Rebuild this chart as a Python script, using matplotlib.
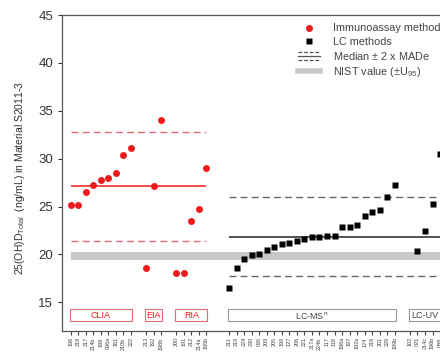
import numpy as np
import matplotlib
matplotlib.use('Agg')
import matplotlib.pyplot as plt
from matplotlib.lines import Line2D
from matplotlib.patches import Rectangle
from matplotlib.legend_handler import HandlerBase

plt.rcParams['font.family'] = ['Liberation Sans', 'DejaVu Sans']
plt.rcParams['mathtext.default'] = 'regular'

# Data (ng/mL)
clia_labs = ['196', '218', '217', '214b', '188', '096a', '161', '210b', '222']
clia_vals = [25.2, 25.2, 26.5, 27.2, 27.8, 28.0, 28.5, 30.4, 31.1]
eia_labs = ['213', '192', '198b']
eia_vals = [18.6, 27.1, 34.0]
ria_labs = ['200', '191', '212', '214a', '195b']
ria_vals = [18.0, 18.1, 23.5, 24.7, 29.0]
lcms_labs = ['211', '219', '224', '230', '026', '209', '205', '199', '127',
             '206', '221', '217a', '224b', '117', '118', '198a', '197', '192a',
             '124', '216', '201', '229', '199b']
lcms_vals = [16.5, 18.6, 19.5, 19.95, 20.05, 20.5, 20.75, 21.1, 21.17, 21.4,
             21.65, 21.8, 21.8, 21.9, 21.9, 22.9, 22.9, 23.1, 24.0, 24.4,
             24.6, 26.0, 27.2]
lcuv_labs = ['102', '021', '214c', '196b', '088']
lcuv_vals = [np.nan, 20.4, 22.4, 25.3, 30.5]

ia_median, ia_made = 27.1, 2.85
lc_median, lc_made = 21.85, 2.07
nist_lo, nist_hi = 19.4, 20.25

RED = '#ee1c1c'
RED_D = '#e36a78'
GRAY_TXT = '#333333'


class HandlerMedian(HandlerBase):
    def create_artists(self, legend, orig_handle, xdescent, ydescent,
                       width, height, fontsize, trans):
        arts = []
        for frac, ls in ((1.05, (0, (3, 1.5))), (0.5, '-'), (-0.05, (0, (3, 1.5)))):
            y = height * frac - ydescent
            arts.append(Line2D([-xdescent, width - xdescent], [y, y], ls=ls,
                               color='#555555', lw=0.9, transform=trans))
        return arts


# build slot positions: groups separated by empty slots
groups = [('CLIA', clia_labs, clia_vals, 0), ('EIA', eia_labs, eia_vals, 1),
          ('RIA', ria_labs, ria_vals, 1), ('LC-MS$^n$', lcms_labs, lcms_vals, 2),
          ('LC-UV', lcuv_labs, lcuv_vals, 1)]
pos = 0
placed = []
for name, labs, vals, gap in groups:
    pos += gap
    xs = np.arange(pos, pos + len(labs))
    placed.append((name, labs, np.array(vals, dtype=float), xs))
    pos += len(labs)

fig = plt.figure(figsize=(4.4, 3.56), dpi=100)
ax = fig.add_axes([62 / 440, 0.0705, 0.962, 0.887])

ia = placed[:3]
lc = placed[3:]
ia_x0, ia_x1 = ia[0][3][0], ia[-1][3][-1]
lc_x0, lc_x1 = lc[0][3][0], lc[-1][3][-1] + 4

# NIST band
ax.fill_between([ia_x0, lc_x1], nist_lo, nist_hi, color='#c8c8c8', lw=0, zorder=1)

# median +/- 2 MADe lines
ax.hlines(ia_median, ia_x0, ia_x1, color=RED, lw=1.1, zorder=2)
ax.hlines([ia_median + 2 * ia_made, ia_median - 2 * ia_made], ia_x0, ia_x1,
          color=RED_D, lw=1.0, linestyles=(0, (5, 3)), zorder=2)
ax.hlines(lc_median, lc_x0, lc_x1, color='#222222', lw=1.1, zorder=2)
ax.hlines([lc_median + 2 * lc_made, lc_median - 2 * lc_made], lc_x0, lc_x1,
          color='#666666', lw=1.0, linestyles=(0, (5, 3)), zorder=2)

# points
for name, labs, vals, xs in ia:
    ax.plot(xs, vals, 'o', color=RED, ms=5, mec='none', zorder=3)
for name, labs, vals, xs in lc:
    ax.plot(xs, vals, 's', color='black', ms=4.5, mec='none', zorder=3)

# group boxes
for i, (name, labs, vals, xs) in enumerate(placed):
    ec = RED_D if i < 3 else '#999999'
    tc = RED if i < 3 else '#444444'
    ax.add_patch(Rectangle((xs[0] - 0.15, 13.0), xs[-1] - xs[0] + 0.3, 1.3,
                           fill=False, ec=ec, lw=0.8, zorder=2))
    ax.text((xs[0] + xs[-1]) / 2, 13.65, name, ha='center', va='center',
            fontsize=6.5, color=tc)

all_x = np.concatenate([p[3] for p in placed])
all_labs = sum([p[1] for p in placed], [])
ax.set_xticks(all_x)
ax.set_xticklabels(all_labs, rotation=90, fontsize=4, color='#444444')
ax.tick_params(axis='x', length=3, width=0.8, pad=1.5, colors='#444444')
ax.tick_params(axis='y', length=3, width=0.8, labelsize=9.5, colors=GRAY_TXT)

ax.set_xlim(-1.15, 55)
ax.set_ylim(12, 45)
ax.set_yticks([15, 20, 25, 30, 35, 40, 45])
for s in ax.spines.values():
    s.set_color('#555555')
    s.set_linewidth(0.9)

fig.text(20 / 440, 0.5, r'25(OH)D$_{Total}$  (ng/mL) in Material S2011-3',
         rotation=90, ha='center', va='center', fontsize=7.5, color=GRAY_TXT)

handles = [Line2D([], [], marker='o', ls='none', color=RED, ms=5, mec='none'),
           Line2D([], [], marker='s', ls='none', color='black', ms=4.5, mec='none'),
           Line2D([], []),
           Line2D([], [], color='#c8c8c8', lw=4)]
labels = ['Immunoassay methods', 'LC methods', r'Median $\pm$ 2 x MADe',
          r'NIST value ($\pm U_{95}$)']
fig.legend(handles, labels, loc='upper left', bbox_to_anchor=(293 / 440, 1 - 18 / 356),
           frameon=False, fontsize=7.8, handlelength=2.0, handletextpad=1.2,
           labelspacing=0.3, borderpad=0, labelcolor='#444444',
           handler_map={handles[2]: HandlerMedian()})

fig.savefig('out.png', dpi=100)
